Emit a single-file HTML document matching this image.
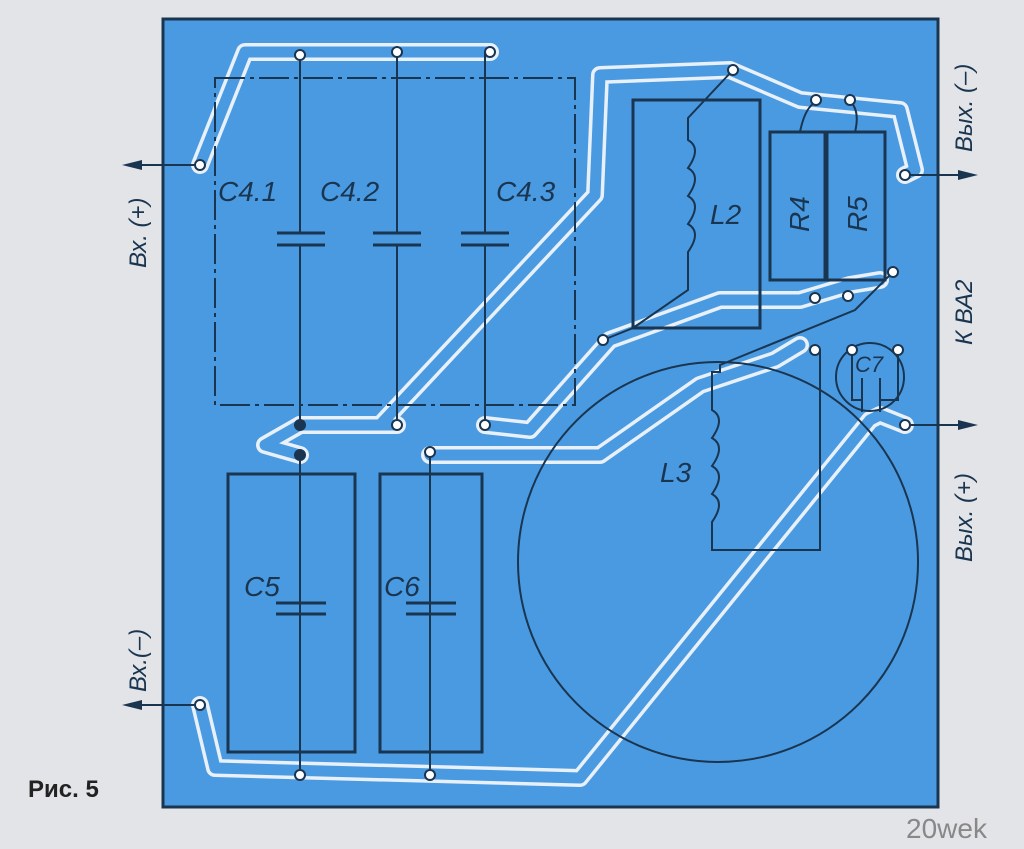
<!DOCTYPE html>
<html><head><meta charset="utf-8"><style>
html,body{margin:0;padding:0;background:#e2e4e8;}
svg{display:block}
text{font-family:"Liberation Sans",sans-serif;}
</style></head><body>
<svg width="1024" height="849" viewBox="0 0 1024 849">
<rect width="1024" height="849" fill="#e2e4e8"/>
<rect x="163" y="19" width="775" height="788" fill="#4a9ae2" stroke="#1a3550" stroke-width="3"/>
<g fill="none" stroke-linejoin="round" stroke-linecap="round">
<g stroke="#e8f0fa" stroke-width="18">
<polyline points="200,165 245,52 490,52"/>
<polyline points="300,425 380,425 595,195 600,75 730,70 800,100 900,110 915,170 905,175"/>
<polyline points="300,425 265,445 300,455"/>
<polyline points="397,425 300,425"/>
<polyline points="485,425 530,430 610,340 720,300 800,300 850,285 880,280"/>
<polyline points="430,455 600,455 700,385 775,360 800,345"/>
<polyline points="200,705 215,768 580,778 870,420 880,415 905,425"/>
</g>
<g stroke="#4a9ae2" stroke-width="11">
<polyline points="200,165 245,52 490,52"/>
<polyline points="300,425 380,425 595,195 600,75 730,70 800,100 900,110 915,170 905,175"/>
<polyline points="300,425 265,445 300,455"/>
<polyline points="397,425 300,425"/>
<polyline points="485,425 530,430 610,340 720,300 800,300 850,285 880,280"/>
<polyline points="430,455 600,455 700,385 775,360 800,345"/>
<polyline points="200,705 215,768 580,778 870,420 880,415 905,425"/>
</g>
</g>
<g fill="none" stroke="#1a3550" stroke-width="2">
<rect x="215" y="78" width="360" height="327" stroke-dasharray="30,5,4,5"/>
<line x1="300" y1="52" x2="300" y2="425"/><line x1="397" y1="52" x2="397" y2="425"/><line x1="485" y1="52" x2="485" y2="425"/>
<g fill="#4a9ae2">
<rect x="274" y="232" width="52" height="14" stroke="none"/><rect x="371" y="232" width="52" height="14" stroke="none"/><rect x="459" y="232" width="52" height="14" stroke="none"/>
</g>
<g stroke-width="3">
<line x1="277" y1="233" x2="325" y2="233"/><line x1="277" y1="245" x2="325" y2="245"/>
<line x1="373" y1="233" x2="421" y2="233"/><line x1="373" y1="245" x2="421" y2="245"/>
<line x1="461" y1="233" x2="509" y2="233"/><line x1="461" y1="245" x2="509" y2="245"/>
</g>
<rect x="633" y="100" width="127" height="228" stroke-width="3"/>
<path d="M733,70 L688,118 V140 q14,8 0,28 q14,8 0,28 q14,8 0,28 q14,8 0,28 V290 L633,328 L603,340"/>
<rect x="770" y="132" width="115" height="148" stroke-width="3"/>
<line x1="826" y1="132" x2="826" y2="280" stroke-width="5"/>
<path d="M800,132 q5,-25 16,-30 M855,132 q5,-20 -4,-30"/>
<path d="M893,272 L855,310 L720,365 V372 L712,372 V410 q14,8 0,28 q14,8 0,28 q14,8 0,28 q14,8 0,28 V550 H820 V350"/>
<rect x="228" y="474" width="127" height="278" stroke-width="3"/>
<rect x="380" y="474" width="102" height="278" stroke-width="3"/>
<line x1="300" y1="455" x2="300" y2="775"/><line x1="430" y1="452" x2="430" y2="775"/>
<line x1="276" y1="603" x2="326" y2="603" stroke-width="3"/><line x1="276" y1="614" x2="326" y2="614" stroke-width="3"/>
<line x1="406" y1="603" x2="456" y2="603" stroke-width="3"/><line x1="406" y1="614" x2="456" y2="614" stroke-width="3"/>
<circle cx="718" cy="562" r="200"/>
<circle cx="870" cy="377" r="34"/>
<path d="M852,350 V400 H862 M898,350 V400 H880 M862,378 V412 M880,378 V412"/>
<line x1="200" y1="165" x2="140" y2="165"/><line x1="200" y1="705" x2="140" y2="705"/>
<line x1="905" y1="175" x2="965" y2="175"/><line x1="905" y1="425" x2="965" y2="425"/>
</g>
<g fill="#1a3550">
<polygon points="122,165 142,160 142,170"/><polygon points="122,705 142,700 142,710"/>
<polygon points="978,175 958,170 958,180"/><polygon points="978,425 958,420 958,430"/>
</g>
<g fill="#fff" stroke="#1a3550" stroke-width="2">
<circle cx="200" cy="165" r="5"/><circle cx="397" cy="52" r="5"/><circle cx="490" cy="52" r="5"/><circle cx="300" cy="55" r="5"/>
<circle cx="397" cy="425" r="5"/><circle cx="485" cy="425" r="5"/><circle cx="430" cy="452" r="5"/>
<circle cx="733" cy="70" r="5"/><circle cx="603" cy="340" r="5"/><circle cx="816" cy="100" r="5"/><circle cx="850" cy="100" r="5"/>
<circle cx="905" cy="175" r="5"/><circle cx="893" cy="272" r="5"/><circle cx="815" cy="298" r="5"/><circle cx="848" cy="296" r="5"/>
<circle cx="815" cy="350" r="5"/><circle cx="852" cy="350" r="5"/><circle cx="898" cy="350" r="5"/><circle cx="905" cy="425" r="5"/>
<circle cx="200" cy="705" r="5"/><circle cx="300" cy="775" r="5"/><circle cx="430" cy="775" r="5"/>
</g>
<circle cx="300" cy="425" r="6" fill="#1a3550"/><circle cx="300" cy="455" r="6" fill="#1a3550"/>
<g fill="#1a3550" font-style="italic" font-size="28">
<text x="218" y="201">C4.1</text><text x="320" y="201">C4.2</text><text x="496" y="201">C4.3</text>
<text x="710" y="224">L2</text><text x="660" y="482">L3</text>
<text x="244" y="596">C5</text><text x="384" y="596">C6</text>
<text x="855" y="372" font-size="22">C7</text>
<text transform="translate(809,232) rotate(-90)">R4</text><text transform="translate(867,232) rotate(-90)">R5</text>
<text transform="translate(146,268) rotate(-90)" font-size="24">Вх. (+)</text>
<text transform="translate(146,692) rotate(-90)" font-size="24">Вх.(–)</text>
<text transform="translate(972,152) rotate(-90)" font-size="24">Вых. (–)</text>
<text transform="translate(972,345) rotate(-90)" font-size="24">К ВА2</text>
<text transform="translate(972,562) rotate(-90)" font-size="24">Вых. (+)</text>
</g>
<text x="28" y="797" font-size="24" font-weight="bold" fill="#222">Рис. 5</text>
<text x="906" y="838" font-size="28" fill="#888">20wek</text>
</svg>
</body></html>
